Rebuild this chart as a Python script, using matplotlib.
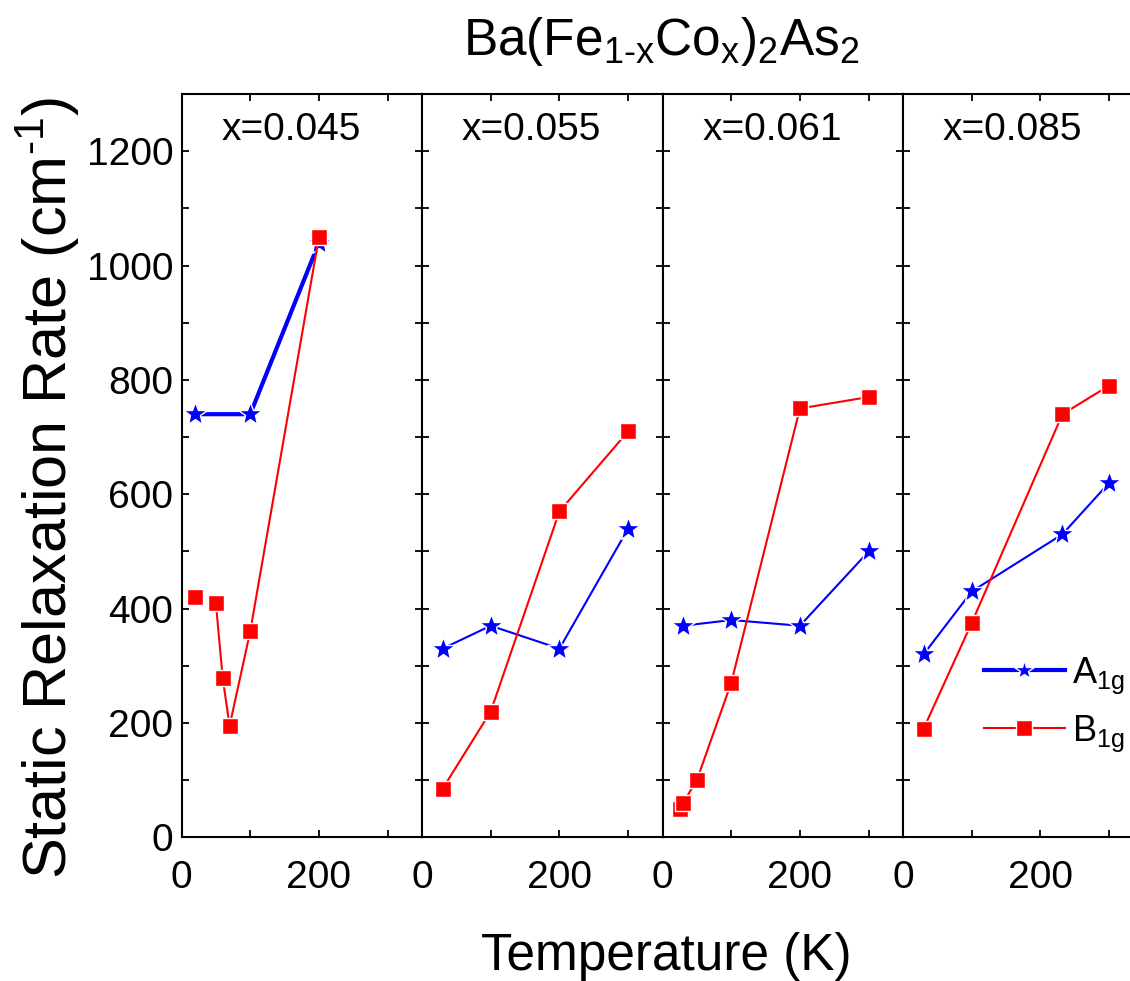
import matplotlib
matplotlib.use("Agg")
import matplotlib.pyplot as plt
from matplotlib.ticker import MultipleLocator
from matplotlib.lines import Line2D

plt.rcParams['font.family'] = ['Liberation Sans', 'DejaVu Sans']
plt.rcParams['mathtext.fontset'] = 'custom'
plt.rcParams['mathtext.rm'] = 'Liberation Sans'
plt.rcParams['mathtext.it'] = 'Liberation Sans'
plt.rcParams['mathtext.bf'] = 'Liberation Sans:bold'

# Cobalt concentrations, one panel each
compositions = ["x=0.045", "x=0.055", "x=0.061", "x=0.085"]

# A1g static relaxation rate (cm^-1) vs temperature (K)
a1g_temps = [[20, 100, 200],
             [30, 100, 200, 300],
             [30, 100, 200, 300],
             [30, 100, 232, 300]]
a1g_rates = [[740, 740, 1040],
             [330, 370, 330, 540],
             [370, 380, 370, 500],
             [320, 430, 530, 620]]

# B1g static relaxation rate (cm^-1) vs temperature (K)
b1g_temps = [[20, 50, 60, 70, 100, 200],
             [30, 100, 200, 300],
             [25, 30, 50, 100, 200, 300],
             [30, 100, 232, 300]]
b1g_rates = [[420, 410, 278, 195, 360, 1050],
             [85, 220, 570, 710],
             [50, 60, 100, 270, 750, 770],
             [190, 375, 740, 790]]
# index of the first B1g point joined by the connecting line
b1g_line_start = [1, 0, 0, 0]

a1g_widths = [3.0, 1.5, 1.5, 1.5]

BLUE = '#0000ff'
RED = '#ff0000'

W, H = 1130, 981
fig = plt.figure(figsize=(W / 100, H / 100), dpi=100)

left_px, panel_w_px = 181.5, 240.5
bottom_px, panel_h_px = H - 837.3, 743.3

star_kw = dict(marker='*', markersize=18, markerfacecolor=BLUE,
               markeredgecolor='white', markeredgewidth=1.0)
sq_kw = dict(marker='s', markersize=11.5, markerfacecolor=RED,
             markeredgecolor='white', markeredgewidth=1.0)

axes = []
for i in range(4):
    ax = fig.add_axes([(left_px + i * panel_w_px) / W, bottom_px / H,
                       panel_w_px / W, panel_h_px / H])
    axes.append(ax)

    ax.plot(a1g_temps[i], a1g_rates[i], color=BLUE, lw=a1g_widths[i],
            zorder=3, **star_kw)

    s = b1g_line_start[i]
    ax.plot(b1g_temps[i][s:], b1g_rates[i][s:], color=RED, lw=1.5,
            zorder=4, **sq_kw)
    if s > 0:
        ax.plot(b1g_temps[i][:s], b1g_rates[i][:s], ls='none',
                zorder=4, **sq_kw)

    ax.set_xlim(0, 350)
    ax.set_ylim(0, 1300)
    ax.xaxis.set_major_locator(MultipleLocator(200))
    ax.xaxis.set_minor_locator(MultipleLocator(100))
    ax.yaxis.set_major_locator(MultipleLocator(200))
    ax.yaxis.set_minor_locator(MultipleLocator(100))
    ax.tick_params(which='both', direction='in', top=True, right=True,
                   length=5, width=1.3)
    ax.tick_params(axis='x', labelsize=28, pad=16)
    ax.tick_params(axis='y', labelsize=28, pad=6, labelleft=(i == 0))
    for sp in ax.spines.values():
        sp.set_linewidth(1.5)

    ax.text(0.455, 0.952, compositions[i], transform=ax.transAxes,
            ha='center', va='center', fontsize=28)

# legend in the last panel
leg_star = dict(star_kw, markersize=15)
leg_sq = dict(sq_kw, markersize=11)
handles = [Line2D([], [], color=BLUE, lw=3.0, **leg_star),
           Line2D([], [], color=RED, lw=1.5, **leg_sq)]
axes[3].legend(handles, [r'A$_{\mathrm{1g}}$', r'B$_{\mathrm{1g}}$'],
               loc='upper left', bbox_to_anchor=(0.335, 0.245),
               frameon=False, fontsize=26, handlelength=2.25,
               handletextpad=0.2, labelspacing=0.5, borderpad=0,
               borderaxespad=0)

fig.text(0.585, 1 - 55 / H,
         r'Ba(Fe$_{\mathrm{1\text{-}x}}$Co$_{\mathrm{x}}$)$_{\mathrm{2}}$As$_{\mathrm{2}}$',
         ha='center', va='baseline', fontsize=37)
fig.text(0.59, 1 - 970 / H, 'Temperature (K)', ha='center', va='baseline',
         fontsize=37)
fig.text(48 / W, 1 - 488 / H, r'Static Relaxation Rate (cm$^{\mathrm{\text{-}1}}$)',
         ha='center', va='center', rotation=90, fontsize=44)

fig.savefig('out.png', dpi=100)
